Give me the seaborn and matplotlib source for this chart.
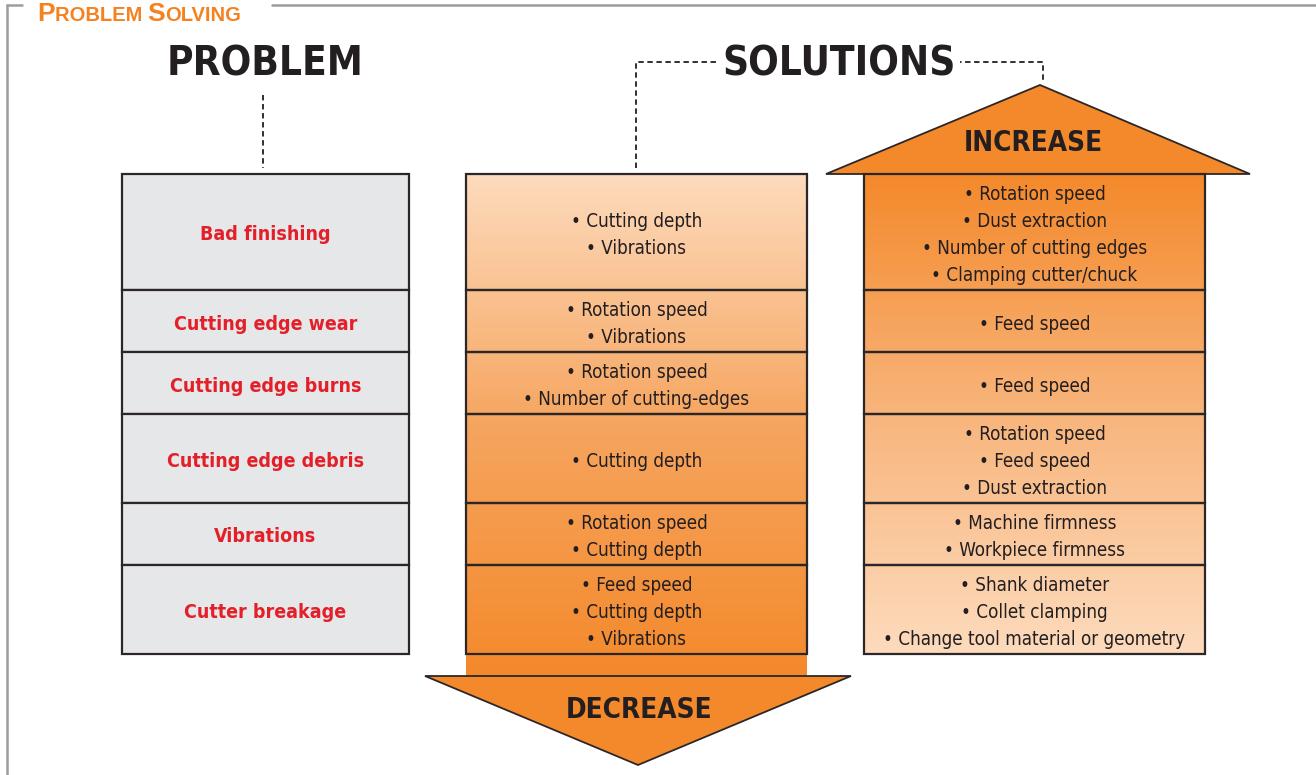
import numpy as np
import matplotlib
matplotlib.use("Agg")
import matplotlib.pyplot as plt
from matplotlib.patches import Rectangle, Polygon
from matplotlib.offsetbox import TextArea, HPacker, AnnotationBbox
import seaborn as sns

# problems and the remedies, one entry per table row
problems = [
    "Bad finishing",
    "Cutting edge wear",
    "Cutting edge burns",
    "Cutting edge debris",
    "Vibrations",
    "Cutter breakage",
]
decrease = [
    ["Cutting depth", "Vibrations"],
    ["Rotation speed", "Vibrations"],
    ["Rotation speed", "Number of cutting-edges"],
    ["Cutting depth"],
    ["Rotation speed", "Cutting depth"],
    ["Feed speed", "Cutting depth", "Vibrations"],
]
increase = [
    ["Rotation speed", "Dust extraction", "Number of cutting edges", "Clamping cutter/chuck"],
    ["Feed speed"],
    ["Feed speed"],
    ["Rotation speed", "Feed speed", "Dust extraction"],
    ["Machine firmness", "Workpiece firmness"],
    ["Shank diameter", "Collet clamping", "Change tool material or geometry"],
]

sns.set_theme(style="white")
plt.rcParams["font.family"] = ["DejaVu Sans"]

ORANGE = "#F4892B"
LIGHT = "#FDDBBD"
EDGE = "#2B2728"
RED = "#E3202A"
INK = "#231F20"
LINE_H = 27
TOP = 174
BASE = 8.5  # baseline offset below the visual centre of a line

fig = plt.figure(figsize=(13.16, 7.75), dpi=100)
ax = fig.add_axes([0, 0, 1, 1])
ax.set_axis_off()

# row geometry from the number of text lines in each row
n_lines = [max(len(d), len(i)) for d, i in zip(decrease, increase)]
heights = [LINE_H * n + 8 for n in n_lines]
edges = np.concatenate([[TOP], TOP + np.cumsum(heights)])
bottom = edges[-1]

cols = {"prob": (122, 409), "dec": (466, 807), "inc": (864, 1205)}

# gradients
dec_cmap = sns.blend_palette([LIGHT, "#F6A55F", ORANGE], as_cmap=True)
inc_cmap = sns.blend_palette([ORANGE, "#F8B57C", LIGHT], as_cmap=True)
grad = np.linspace(0, 1, 256).reshape(-1, 1)
x0, x1 = cols["dec"]
ax.imshow(grad, extent=(x0, x1, bottom + 22, TOP), cmap=dec_cmap, aspect="auto", zorder=1)
x0, x1 = cols["inc"]
ax.imshow(grad, extent=(x0, x1, bottom, TOP), cmap=inc_cmap, aspect="auto", zorder=1)

# arrows
ax.add_patch(Polygon([(425, bottom + 22), (851, bottom + 22), (638, 765)], closed=True,
                     facecolor=ORANGE, edgecolor=EDGE, lw=1.3, zorder=2))
ax.add_patch(Polygon([(826, TOP), (1250, TOP), (1040, 85)], closed=True,
                     facecolor=ORANGE, edgecolor=EDGE, lw=1.3, zorder=2))

cond = dict(family="DejaVu Sans", fontstretch="condensed")

# table cells and text
for r, prob in enumerate(problems):
    y0, y1 = edges[r], edges[r + 1]
    cy = (y0 + y1) / 2
    ax.add_patch(Rectangle((cols["prob"][0], y0), cols["prob"][1] - cols["prob"][0], y1 - y0,
                           facecolor="#E6E7E8", edgecolor=EDGE, lw=1.6, zorder=3))
    ax.text(sum(cols["prob"]) / 2, cy + BASE, prob, color=RED, fontsize=14,
            fontweight="bold", ha="center", va="baseline", zorder=4, **cond)
    for key, items in (("dec", decrease[r]), ("inc", increase[r])):
        xa, xb = cols[key]
        ax.add_patch(Rectangle((xa, y0), xb - xa, y1 - y0, facecolor="none",
                               edgecolor=EDGE, lw=1.6, zorder=3))
        n = len(items)
        for i, item in enumerate(items):
            ax.text((xa + xb) / 2, cy + BASE + (i - (n - 1) / 2) * LINE_H, "\u2022 " + item,
                    color=INK, fontsize=13.5, ha="center", va="baseline", zorder=4, **cond)

# headings
head = dict(fontweight="bold", color=INK, ha="center", va="center", **cond)
ax.text(265, 64, "PROBLEM", fontsize=29, **head)
ax.text(839, 64, "SOLUTIONS", fontsize=29, zorder=3,
        bbox=dict(facecolor="white", edgecolor="none", pad=3), **head)
ax.text(1033, 143, "INCREASE", fontsize=20, zorder=5, **head)
ax.text(639, 710, "DECREASE", fontsize=20, zorder=5, **head)

# dashed connectors
dash = dict(color=INK, lw=1.3, ls=(0, (3, 2)), zorder=2)
ax.plot([263, 263], [95, 168], **dash)
ax.plot([636, 636, 740], [168, 62, 62], **dash)
ax.plot([938, 1043, 1043], [62, 62, 80], **dash)

# frame and section title in small caps
frame = dict(color="#9D9D9F", lw=1.8)
ax.plot([7, 22], [5, 5], **frame)
ax.plot([272, 1316], [5, 5], **frame)
ax.plot([7, 7], [5, 775], **frame)
big = dict(fontsize=19, fontweight="bold", color="#F58220", family="Liberation Sans")
small = dict(fontsize=14.5, fontweight="bold", color="#F58220", family="Liberation Sans")
parts = [TextArea("P", textprops=big), TextArea("ROBLEM ", textprops=small),
         TextArea("S", textprops=big), TextArea("OLVING", textprops=small)]
title = HPacker(children=parts, align="baseline", pad=0, sep=0)
ax.add_artist(AnnotationBbox(title, (37, 26), xycoords="data", box_alignment=(0, 0),
                             frameon=False, pad=0))

ax.set_xlim(0, 1316)
ax.set_ylim(775, 0)

fig.savefig("out.png", dpi=100)
